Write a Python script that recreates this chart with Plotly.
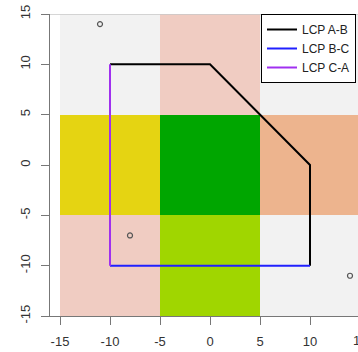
import plotly.graph_objects as go

# Grid cells (3x3 raster), centers
cell_x = [-10, 0, 10]
cell_y = [-10, 0, 10]
# color codes: 0 gray, 1 pink, 2 yellow, 3 green, 4 salmon, 5 yellow-green
cell_codes = [
    [1, 5, 0],   # y = -10
    [2, 3, 4],   # y = 0
    [0, 1, 0],   # y = 10
]
code_colors = ["#F2F2F2", "#F0CCC2", "#E5D412", "#00A600", "#EDB48E", "#A0D600"]

# Least-cost paths
path_ab_x = [-10, 0, 10, 10]
path_ab_y = [10, 10, 0, -10]
path_bc_x = [10, -10]
path_bc_y = [-10, -10]
path_ca_x = [-10, -10]
path_ca_y = [-10, 10]

# Points
pts_x = [-11, -8, 14]
pts_y = [14, -7, -11]

x_ticks = [-15, -10, -5, 0, 5, 10]
y_ticks = [-15, -10, -5, 0, 5, 10, 15]

n = len(code_colors)
colorscale = []
for i, c in enumerate(code_colors):
    colorscale.append([i / n, c])
    colorscale.append([(i + 1) / n, c])

fig = go.Figure()
fig.add_trace(go.Heatmap(
    x=cell_x, y=cell_y, z=cell_codes, zmin=-0.5, zmax=n - 0.5,
    colorscale=colorscale, showscale=False, hoverinfo="skip", xgap=0, ygap=0))

fig.add_trace(go.Scatter(x=path_ab_x, y=path_ab_y, mode="lines", name="LCP A-B",
                         line=dict(color="#000000", width=2)))
fig.add_trace(go.Scatter(x=path_bc_x, y=path_bc_y, mode="lines", name="LCP B-C",
                         line=dict(color="#2020FF", width=2)))
fig.add_trace(go.Scatter(x=path_ca_x, y=path_ca_y, mode="lines", name="LCP C-A",
                         line=dict(color="#A030F0", width=2)))
fig.add_trace(go.Scatter(x=pts_x, y=pts_y, mode="markers", showlegend=False,
                         marker=dict(symbol="circle-open", size=5,
                                     color="#555555", line=dict(width=1.2))))

axis_font = dict(family="Liberation Sans, Arial, sans-serif", size=13, color="#333333")

fig.update_layout(
    width=358, height=352,
    margin=dict(l=50, r=0, t=14, b=36),
    plot_bgcolor="white", paper_bgcolor="white",
    showlegend=True,
    legend=dict(x=(261 - 50) / 308, y=1.0, xanchor="left", yanchor="top",
                bgcolor="white", bordercolor="#000000", borderwidth=1,
                font=dict(family="Liberation Sans, Arial, sans-serif", size=12, color="#222222"),
                itemwidth=30, tracegroupgap=0),
    xaxis=dict(range=[-16, 14.8], tickvals=x_ticks, ticktext=[str(v) for v in x_ticks],
               showgrid=False, zeroline=False, showline=True, linecolor="#777777",
               linewidth=1, ticks="outside", ticklen=8, tickcolor="#777777",
               tickfont=axis_font, ticklabelstandoff=5),
    yaxis=dict(range=[-15, 15], tickvals=y_ticks, ticktext=[str(v) for v in y_ticks],
               showgrid=False, zeroline=False, showline=True, linecolor="#777777",
               linewidth=1, ticks="outside", ticklen=8, tickcolor="#777777",
               tickangle=-90, tickfont=axis_font, ticklabelstandoff=6),
    shapes=[dict(type="line", xref="paper", yref="y", x0=0, x1=1, y0=15, y1=15,
                 line=dict(color="#C8C8C8", width=1.5))],
    annotations=[dict(text="15", xref="paper", yref="paper", x=(360 - 50) / 308, y=0,
                      yshift=-24, showarrow=False, xanchor="center", yanchor="middle",
                      font=axis_font)],
)

fig.write_html("out.html", config={"displayModeBar": False},
               post_script="document.body.style.margin='0';document.body.style.overflow='hidden';")
